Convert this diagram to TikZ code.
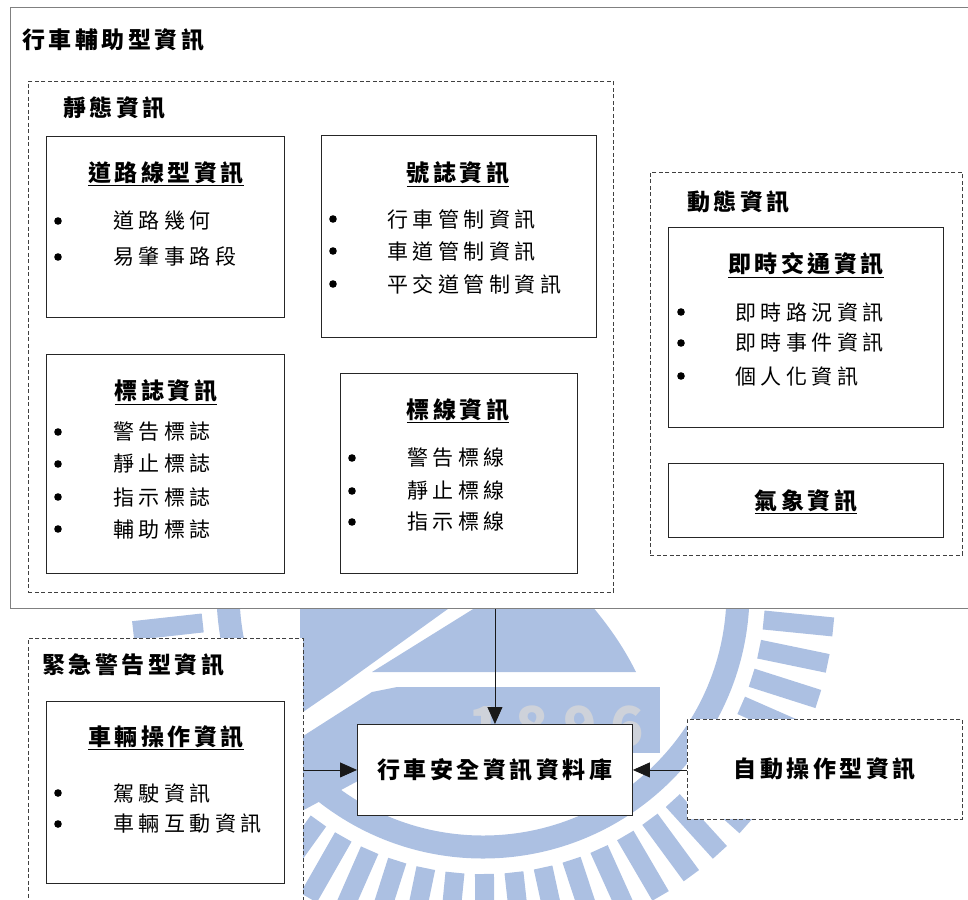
\documentclass[tikz,border=0pt]{standalone}
\usepackage{fontspec}
\setmainfont{Noto Sans CJK TC}
\usetikzlibrary{arrows.meta,calc}
\newlength\cjkgap
\setlength\cjkgap{3.5pt}
\def\spc#1{\spA#1\relax}
\def\spA#1{#1\spB}
\def\spB#1{\ifx#1\relax\else\hspace{\cjkgap}#1\expandafter\spB\fi}
\definecolor{wmblue}{RGB}{172,192,226}
\definecolor{wmgray}{RGB}{206,210,218}
\tikzset{
  outerbox/.style={draw=black!50, line width=1.2pt, fill=white, anchor=north west, inner sep=0pt},
  solidbox/.style={draw=black!85, line width=0.9pt, fill=white, anchor=north west, inner sep=0pt},
  dashbox/.style={draw=black!75, line width=0.8pt, fill=white, dash pattern=on 4pt off 2.5pt, anchor=north west, inner sep=0pt},
  hdr/.style={font=\bfseries\fontsize{23}{23}\selectfont, inner sep=0pt, anchor=west},
  ttl/.style={font=\bfseries\fontsize{23}{23}\selectfont, inner sep=0pt},
  item/.style={font=\fontsize{21}{21}\selectfont\setlength\cjkgap{4.5pt}, inner sep=0pt, anchor=west},
  bul/.style={fill=black},
  arr/.style={-{Triangle[length=17pt,width=15pt]}, line width=0.8pt, draw=black!90},
  wm/.style={draw=wmblue, fill=none}
}
\begin{document}
\begin{tikzpicture}[x=1pt,y=-1pt]
\useasboundingbox (0,0) rectangle (968,899);
% faint background watermark
\coordinate (wmc) at (483,592);
\draw[wm, line width=23pt] (wmc) circle (255pt);
\foreach \a in {-6.3,-0.3,...,192} \draw[wm, line width=19pt] ($(wmc)+(\a:282)$) -- ($(wmc)+(\a:352)$);
\fill[wmblue] (372,672) -- (478,606) -- (592,606) .. controls (612,630) and (625,650) .. (636,672) -- cycle;
\fill[wmblue] (300,606) -- (452,606) -- (338,688) -- (300,714) -- cycle;
\fill[wmblue] (300,738) -- (372,692) -- (397,687) -- (397,760) -- (300,812) -- cycle;
\fill[wmblue] (397,687) rectangle (660,753);
\node[font=\bfseries\fontsize{55}{55}\selectfont\setlength\cjkgap{14pt}, text=wmgray, inner sep=0pt] (wmyear) at (556,727) {\spc{1896}};
% outer assist box
\node[outerbox, minimum width=970pt, minimum height=601pt] (outer) at (10,7) {};
\node[hdr] (hAssist) at (22,40) {\spc{行車輔助型資訊}};
% static
\node[dashbox, minimum width=585pt, minimum height=511pt] (static) at (28,81) {};
\node[hdr] (hStatic) at (63,108) {\spc{靜態資訊}};
% road geometry
\node[solidbox, minimum width=238pt, minimum height=181pt] (road) at (46,136) {};
\node[ttl] (tRoad) at (166,174) {\underline{\spc{道路線型資訊}}};
\fill[bul] (58,221) circle (3.8pt);
\fill[bul] (58,257) circle (3.8pt);
\node[item] (iRoad1) at (113,221) {\spc{道路幾何}};
\node[item] (iRoad2) at (113,257) {\spc{易肇事路段}};
% signals
\node[solidbox, minimum width=275pt, minimum height=202pt] (signal) at (321,135) {};
\node[ttl] (tSignal) at (458,174) {\underline{\spc{號誌資訊}}};
\fill[bul] (333,219) circle (3.8pt);
\fill[bul] (333,251) circle (3.8pt);
\fill[bul] (333,284) circle (3.8pt);
\node[item] (iSig1) at (387,219) {\spc{行車管制資訊}};
\node[item] (iSig2) at (387,251) {\spc{車道管制資訊}};
\node[item] (iSig3) at (387,284) {\spc{平交道管制資訊}};
% signs
\node[solidbox, minimum width=238pt, minimum height=219pt] (sign) at (46,354) {};
\node[ttl] (tSign) at (166,392) {\underline{\spc{標誌資訊}}};
\foreach \yy in {432,464,497,529} \fill[bul] (58,\yy) circle (3.8pt);
\node[item] (iSign1) at (113,432) {\spc{警告標誌}};
\node[item] (iSign2) at (113,464) {\spc{靜止標誌}};
\node[item] (iSign3) at (113,497) {\spc{指示標誌}};
\node[item] (iSign4) at (113,529) {\spc{輔助標誌}};
% markings
\node[solidbox, minimum width=237pt, minimum height=200pt] (mark) at (340,373) {};
\node[ttl] (tMark) at (458,411) {\underline{\spc{標線資訊}}};
\foreach \yy in {458,491,522} \fill[bul] (352,\yy) circle (3.8pt);
\node[item] (iMark1) at (407,458) {\spc{警告標線}};
\node[item] (iMark2) at (407,491) {\spc{靜止標線}};
\node[item] (iMark3) at (407,522) {\spc{指示標線}};
% dynamic
\node[dashbox, minimum width=312pt, minimum height=383pt] (dynamic) at (650,172) {};
\node[hdr] (hDyn) at (687,202) {\spc{動態資訊}};
\node[solidbox, minimum width=275pt, minimum height=200pt] (rt) at (668,227) {};
\node[ttl] (tRt) at (806,265) {\underline{\spc{即時交通資訊}}};
\foreach \yy in {312,343,376} \fill[bul] (681,\yy) circle (3.8pt);
\node[item] (iRt1) at (735,312) {\spc{即時路況資訊}};
\node[item] (iRt2) at (735,343) {\spc{即時事件資訊}};
\node[item] (iRt3) at (735,376) {\spc{個人化資訊}};
\node[solidbox, minimum width=275pt, minimum height=74pt] (weather) at (668,463) {};
\node[ttl] (tWeather) at (806,502) {\underline{\spc{氣象資訊}}};
% emergency
\node[dashbox, minimum width=275pt, minimum height=280pt] (emerg) at (28,638) {};
\node[hdr] (hEmerg) at (42,665) {\spc{緊急警告型資訊}};
\node[solidbox, minimum width=238pt, minimum height=182pt] (veh) at (46,701) {};
\node[ttl] (tVeh) at (166,738) {\underline{\spc{車輛操作資訊}}};
\fill[bul] (58,793) circle (3.8pt);
\fill[bul] (58,824) circle (3.8pt);
\node[item] (iVeh1) at (113,793) {\spc{駕駛資訊}};
\node[item] (iVeh2) at (113,824) {\spc{車輛互動資訊}};
% database
\node[solidbox, minimum width=275pt, minimum height=91pt] (db) at (357,724) {};
\node[ttl] (tDb) at (db.center) {\spc{行車安全資訊資料庫}};
% auto
\node[dashbox, minimum width=275pt, minimum height=100pt] (auto) at (687,719) {};
\node[ttl] (tAuto) at (auto.center) {\spc{自動操作型資訊}};
% connectors
\draw[arr] (db.north |- outer.south) -- (db.north);
\draw[arr] (emerg.east |- db.west) -- (db.west);
\draw[arr] (auto.west |- db.east) -- (db.east);
\end{tikzpicture}
\end{document}
